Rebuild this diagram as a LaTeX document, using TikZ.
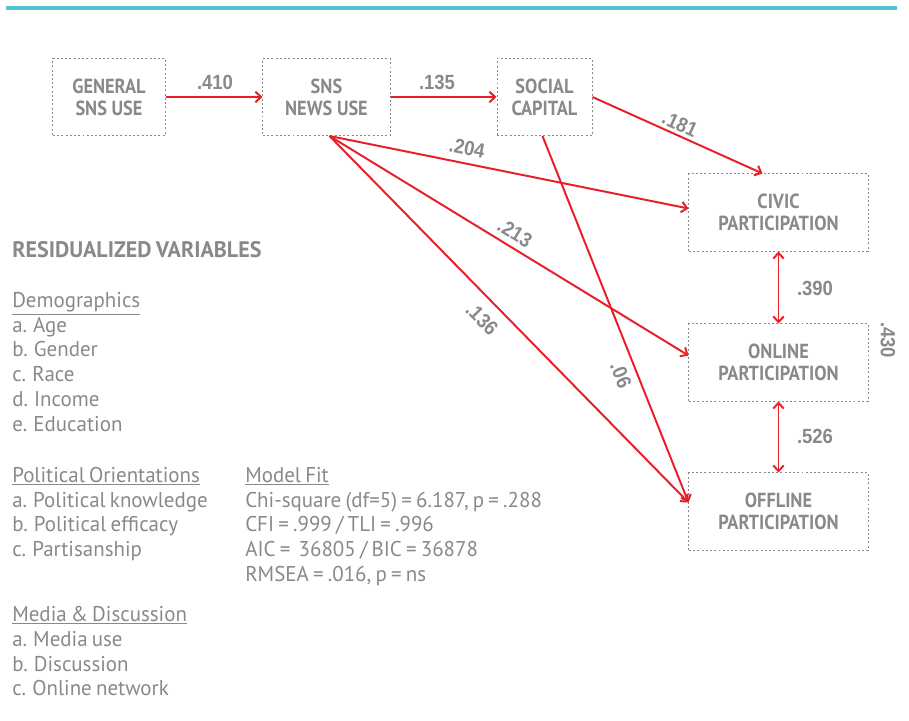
\documentclass[tikz,border=0pt]{standalone}
\usepackage{fontspec}
\setmainfont{PT Sans}[FakeStretch=0.98,WordSpace=0.75]
\newfontfamily\boxfont{PT Sans}[FakeStretch=0.9]
\newfontfamily\numfont{Liberation Sans}[FakeStretch=0.9]
\usetikzlibrary{arrows.meta,calc}
\usepackage{xcolor}
\definecolor{txtgray}{RGB}{136,137,141}
\definecolor{linkred}{RGB}{232,30,40}
\definecolor{topteal}{RGB}{80,196,212}
\tikzset{
  >={Straight Barb[length=4pt,width=7.5pt]},
  var/.style={draw=txtgray,dash pattern=on 1.4pt off 1.6pt,line width=0.7pt,align=center,text=txtgray,minimum height=1.925cm,font=\boxfont\fontsize{14.5}{15.6}\selectfont\bfseries,inner sep=0pt},
  link/.style={->,draw=linkred,line width=1.4pt},
  corr/.style={<->,draw=linkred,line width=1.4pt},
  coef/.style={text=txtgray,font=\numfont\fontsize{14.6}{15}\selectfont\bfseries,inner sep=0pt},
  txt/.style={text=txtgray,align=left,anchor=north west,inner sep=0pt,font=\fontsize{15.2}{17.6}\selectfont}
}

\begin{document}
\begin{tikzpicture}[x=0.025cm,y=-0.025cm]
\useasboundingbox(0,0)rectangle(909,721);
\draw[topteal,line width=2.2pt](6,8)--(897,8);
% path model
\node[var,minimum width=2.8cm](gen)at(109,97){GENERAL\\SNS USE};
\node[var,minimum width=3.175cm](news)at(326.5,97){SNS\\NEWS USE};
\node[var,minimum width=2.375cm](social)at(544.5,97){SOCIAL\\CAPITAL};
\node[var,minimum width=4.475cm](civic)at(778.5,212.5){CIVIC\\PARTICIPATION};
\node[var,minimum width=4.475cm](online)at(778.5,362.5){ONLINE\\PARTICIPATION};
\node[var,minimum width=4.475cm](offline)at(778.5,511.5){OFFLINE\\PARTICIPATION};
\draw[link](gen)--(news);
\draw[link](news)--(social);
\draw[link](social.east)--($(civic.north)+(-16,0)$);
\draw[link]($(news.south)+(3,0)$)--($(civic.west)+(0,-4)$);
\draw[link]($(news.south)+(3,0)$)--($(online.west)+(0,-7)$);
\draw[link]($(news.south)+(3,0)$)--($(offline.west)+(0,-9)$);
\draw[link]($(social.south)+(-2,0)$)--($(offline.west)+(0,-9)$);
\draw[corr](civic)--(online);
\draw[corr](online)--(offline);
% coefficients
\node[coef](c1)at(215,82){.410};
\node[coef](c2)at(437,82){.135};
\node[coef,rotate=-24.5](c3)at(680,124){.181};
\node[coef,rotate=-11](c4)at(467,148){.204};
\node[coef,rotate=-31](c5)at(515,233){.213};
\node[coef,rotate=-45](c6)at(482,319){.136};
\node[coef,rotate=-68](c7)at(621,375){.06};
\node[coef](c8)at(815,288){.390};
\node[coef](c9)at(815,436){.526};
\node[coef,rotate=-90](c10)at(888,340){.430};
% covariates and fit
\node[txt,font=\fontsize{16}{17}\selectfont\bfseries](resid)at(12,241){RESIDUALIZED VARIABLES};
\node[txt](demo)at(12,292){\underline{Demographics}\\a. Age\\b. Gender\\c. Race\\d. Income\\e. Education};
\node[txt](polit)at(12,467){\underline{Political Orientations}\\a. Political knowledge\\b. Political efficacy\\c. Partisanship};
\node[txt](media)at(12,606){\underline{Media \& Discussion}\\a. Media use\\b. Discussion\\c. Online network};
\node[txt](fit)at(245,467){\underline{Model Fit}\\Chi-square (df=5) = 6.187, p = .288\\CFI = .999 / TLI = .996\\AIC = \ 36805 / BIC = 36878\\RMSEA = .016, p = ns};
\end{tikzpicture}
\end{document}
